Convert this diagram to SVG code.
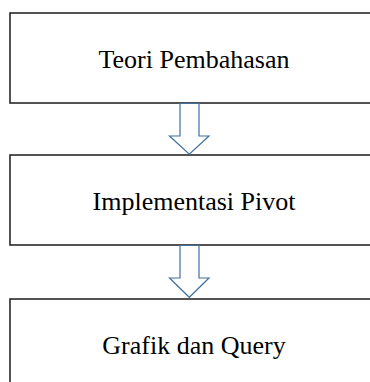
<svg xmlns="http://www.w3.org/2000/svg" width="370" height="382" viewBox="0 0 370 382">
<style>
.box{fill:#ffffff;stroke:#1a1a1a;stroke-width:1.5}
.lbl{font-family:"Liberation Serif","Times New Roman",serif;font-size:26px;fill:#000;text-anchor:middle}
.arr{fill:#ffffff;stroke:#41719c;stroke-width:1.2;stroke-linejoin:miter}
</style>
<rect width="370" height="382" fill="#ffffff"/>
<g id="node-teori">
<rect class="box" x="10" y="13" width="370" height="90"/>
<text class="lbl" x="194" y="68">Teori Pembahasan</text>
</g>
<g id="node-implementasi">
<rect class="box" x="10" y="155" width="370" height="90"/>
<text class="lbl" x="194" y="210">Implementasi Pivot</text>
</g>
<g id="node-grafik">
<rect class="box" x="10" y="299" width="370" height="90"/>
<text class="lbl" x="194" y="354">Grafik dan Query</text>
</g>
<g id="connectors">
<path class="arr" d="M180,103.5 L199,103.5 L199,136 L209,136 L189.3,154.3 L169.5,136 L180,136 Z"/>
<path class="arr" d="M180,245.5 L199,245.5 L199,278 L209,278 L189.3,297.3 L169.5,278 L180,278 Z"/>
</g>
</svg>
